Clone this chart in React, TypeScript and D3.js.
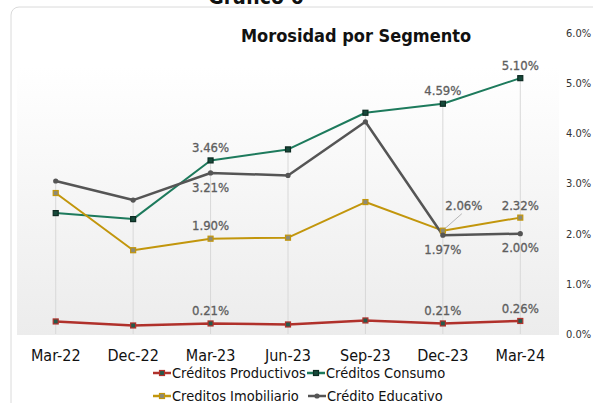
import React from 'react';
import * as d3 from 'd3';

const categories = ['Mar-22', 'Dec-22', 'Mar-23', 'Jun-23', 'Sep-23', 'Dec-23', 'Mar-24'];
const yTicks = [0, 1, 2, 3, 4, 5, 6];

const productivos = [0.25, 0.17, 0.21, 0.19, 0.27, 0.21, 0.26];
const consumo = [2.41, 2.29, 3.46, 3.68, 4.41, 4.59, 5.1];
const imobiliario = [2.81, 1.67, 1.9, 1.92, 2.63, 2.06, 2.32];
const educativo = [3.05, 2.67, 3.21, 3.16, 4.23, 1.97, 2.0];

// which points carry a label, and where (-1 above, 1 below)
const labelIdx = [2, 5, 6];

const series = [
    { name: 'Créditos Productivos', values: productivos, color: '#b0312b', width: 2.5, mark: 'sq', fill: '#245a4c', pos: -1 },
    { name: 'Créditos Consumo', values: consumo, color: '#1d7a5c', width: 2, mark: 'sq', fill: '#16493a', pos: -1 },
    { name: 'Creditos Imobiliario', values: imobiliario, color: '#c2960c', width: 2, mark: 'sq', fill: '#8c8a78', pos: -1 },
    { name: 'Crédito Educativo', values: educativo, color: '#555555', width: 2.5, mark: 'dot', fill: '#555555', pos: 1 },
];

const FONT = '"DejaVu Sans Condensed", "DejaVu Sans", sans-serif';

function Marker({ s, cx, cy }) {
    if (s.mark === 'dot') return <circle cx={cx} cy={cy} r={2.6} fill={s.fill} />;
    return <rect x={cx - 2.5} y={cy - 2.5} width={5} height={5} fill={s.fill} stroke={s.name === 'Créditos Consumo' ? '#0d2b22' : s.color} strokeWidth={1.2} />;
}

export default function App() {
    const x0 = d3.scaleBand().domain(categories).range([17, 559]).padding(0);
    const x = c => x0(c) + x0.bandwidth() / 2;
    const y = d3.scaleLinear().domain([0, 6]).range([334, 33]);

    const line = d3.line().x((d, i) => x(categories[i])).y(d => y(d));

    const legend = [
        { s: series[0], lx: 153, ly: 373 },
        { s: series[1], lx: 307, ly: 373 },
        { s: series[2], lx: 153, ly: 396 },
        { s: series[3], lx: 308, ly: 396 },
    ];

    return (
        <svg width={593} height={403} style={{ position: 'absolute', left: 0, top: 0 }} fontFamily={FONT}>
            <defs>
                <linearGradient id="plotbg" x1="0" y1="0" x2="0" y2="1">
                    <stop offset="0%" stopColor="#ffffff" />
                    <stop offset="100%" stopColor="#ececec" />
                </linearGradient>
            </defs>
            <rect x={0} y={0} width={593} height={403} fill="#fff" />
            <rect x={11} y={7} width={620} height={430} rx={8} fill="#fff" stroke="#dadada" />
            <text x={256} y={4} textAnchor="middle" fontSize={21} fontWeight="bold" fill="#111">Gráfico 6</text>

            <rect x={17} y={66} width={542} height={269} fill="url(#plotbg)" />

            {categories.map((c, i) => {
                const top = d3.max(series, s => s.values[i]);
                return <line key={c} x1={x(c)} x2={x(c)} y1={y(top)} y2={y(0)} stroke="#d8d8d8" strokeWidth={1} />;
            })}

            <text x={356} y={42} textAnchor="middle" fontSize={18} fontWeight="bold" fill="#111">Morosidad por Segmento</text>

            {yTicks.map(t => (
                <text key={t} x={566} y={y(t)} dy="0.35em" fontSize={11} fill="#333">{t.toFixed(1)}%</text>
            ))}

            {categories.map(c => (
                <text key={c} x={x(c)} y={355} dy="0.35em" textAnchor="middle" fontSize={16} fill="#111">{c}</text>
            ))}

            {series.map(s => (
                <path key={s.name} d={line(s.values)} fill="none" stroke={s.color} strokeWidth={s.width} strokeLinejoin="round" />
            ))}
            {series.map(s => s.values.map((v, i) => (
                <Marker key={s.name + i} s={s} cx={x(categories[i])} cy={y(v)} />
            )))}

            {/* leader line for the Dec-23 housing label */}
            <line x1={x('Dec-23') + 2} y1={y(imobiliario[5]) - 2} x2={x('Dec-23') + 19} y2={y(imobiliario[5]) - 17} stroke="#b5b5b5" strokeWidth={1} />

            {series.map(s => labelIdx.map(i => {
                const c = categories[i];
                let lx = x(c);
                let ly = y(s.values[i]) + (s.pos < 0 ? -13 : 14);
                if (s === series[2] && i === 5) { lx += 21; ly = 205; }
                if (s === series[2] && i === 6) { ly = 205; }
                return (
                    <text key={s.name + 'l' + i} x={lx} y={ly} dy="0.35em" textAnchor="middle" fontSize={13} fill="#5e5e5e" stroke="#5e5e5e" strokeWidth={0.3}>
                        {s.values[i].toFixed(2)}%
                    </text>
                );
            }))}

            {legend.map(({ s, lx, ly }) => (
                <g key={s.name}>
                    <line x1={lx} x2={lx + 18} y1={ly} y2={ly} stroke={s.color} strokeWidth={2.5} />
                    <Marker s={s} cx={lx + 9} cy={ly} />
                    <text x={lx + 19} y={ly} dy="0.35em" fontSize={14.5} fill="#111">{s.name}</text>
                </g>
            ))}
        </svg>
    );
}
